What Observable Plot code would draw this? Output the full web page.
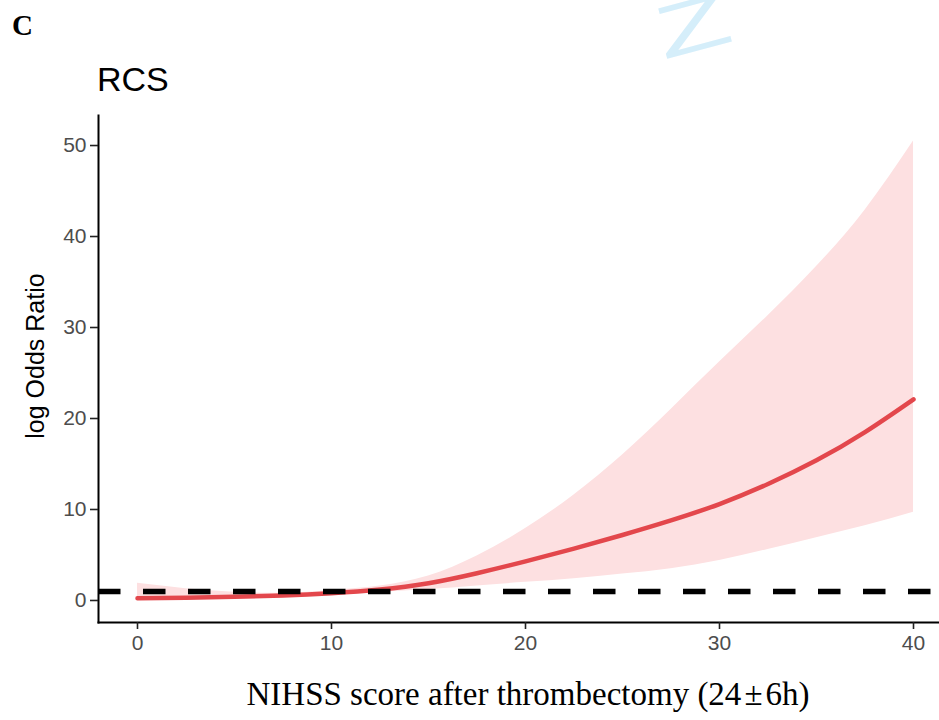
<!DOCTYPE html>
<html>
<head>
<meta charset="utf-8">
<script src="https://cdn.jsdelivr.net/npm/d3@7"></script>
<script src="https://cdn.jsdelivr.net/npm/@observablehq/plot@0.6"></script>
<style>
  html, body { margin: 0; padding: 0; background: #fff; }
  #page { position: relative; width: 939px; height: 720px; overflow: hidden; font-family: "Liberation Sans", Arial, sans-serif; }
  #panel { position: absolute; left: 12px; top: 9px; font: bold 29px "Liberation Serif", "Times New Roman", serif; color: #000; }
  #mark { position: absolute; left: 646px; top: -6px; font: 74px "Liberation Sans", Arial, sans-serif; color: #d5eefa; transform: rotate(-15deg) scaleX(1.65); transform-origin: left top; }
  #title { position: absolute; left: 97px; top: 62px; font-size: 34px; color: #000; line-height: 1; }
  #chart { position: absolute; left: 0; top: 100px; }
  #ylab { position: absolute; left: 35px; top: 356px; font-size: 25px; color: #000; white-space: nowrap; transform: translate(-50%, -50%) rotate(-90deg); }
  #xlab { position: absolute; left: 0; width: 1056px; top: 676px; text-align: center; font: 33px "Liberation Serif", "Times New Roman", serif; color: #000; white-space: nowrap; }
  #xlab .pm { margin: 0 3px; }
</style>
</head>
<body>
<div id="page">
  <div id="mark">Z</div>
  <div id="panel">C</div>
  <div id="title">RCS</div>
  <div id="chart"></div>
  <div id="ylab">log Odds Ratio</div>
  <div id="xlab">NIHSS score after thrombectomy (24<span class="pm">±</span>6h)</div>
</div>
<script>
// NIHSS score grid and restricted cubic spline estimates
const nihss = [0, 2.5, 5, 7.5, 10, 12.5, 15, 17.5, 20, 22.5, 25, 27.5, 30, 32.5, 35, 37.5, 40];
const estimate = [0.25, 0.3, 0.4, 0.55, 0.8, 1.2, 1.9, 3.0, 4.3, 5.7, 7.2, 8.8, 10.6, 12.8, 15.4, 18.5, 22.1];
const lowerCI = [0.05, 0.1, 0.2, 0.4, 0.6, 0.9, 1.2, 1.6, 2.0, 2.4, 2.9, 3.5, 4.4, 5.6, 6.9, 8.2, 9.7];
const upperCI = [1.9, 1.3, 0.9, 0.8, 1.1, 1.6, 2.7, 4.9, 7.9, 11.6, 16.0, 21.0, 26.2, 31.3, 36.7, 42.9, 50.5];
const referenceLine = [1];
const xTicks = [0, 10, 20, 30, 40];
const yTicks = [0, 10, 20, 30, 40, 50];

const rows = nihss.map((x, i) => ({x, fit: estimate[i], lo: lowerCI[i], hi: upperCI[i]}));

const chart = Plot.plot({
  width: 939,
  height: 580,
  marginTop: 15,
  marginBottom: 58,
  marginLeft: 98,
  marginRight: 0,
  style: {fontFamily: "'Liberation Sans', Arial, sans-serif", background: "transparent", overflow: "visible"},
  x: {domain: [-2.01, 41.34]},
  y: {domain: [-2.42, 53.3]},
  marks: [
    Plot.areaY(rows, {x: "x", y1: "lo", y2: "hi", fill: "#fde0e1", curve: "natural"}),
    Plot.line(rows, {x: "x", y: "fit", stroke: "#e3474c", strokeWidth: 4.5, curve: "natural"}),
    Plot.ruleY(referenceLine, {stroke: "#000", strokeWidth: 5.5, strokeDasharray: "22.5,22.5"}),
    Plot.frame({anchor: "left", stroke: "#000", strokeWidth: 2}),
    Plot.frame({anchor: "bottom", stroke: "#000", strokeWidth: 2}),
    Plot.axisX({ticks: xTicks, tickSize: 7, tickPadding: 6, fontSize: 21, label: null, strokeWidth: 1.6, stroke: "#222"}),
    Plot.axisY({ticks: yTicks, tickSize: 8, tickPadding: 4, fontSize: 21, label: null, strokeWidth: 1.6, stroke: "#222"})
  ]
});
document.getElementById("chart").appendChild(chart);
d3.select(chart).selectAll("g[aria-label$='tick label'] text, g[aria-label$='tick label']").attr("fill", "#4d4d4d");
</script>
</body>
</html>
